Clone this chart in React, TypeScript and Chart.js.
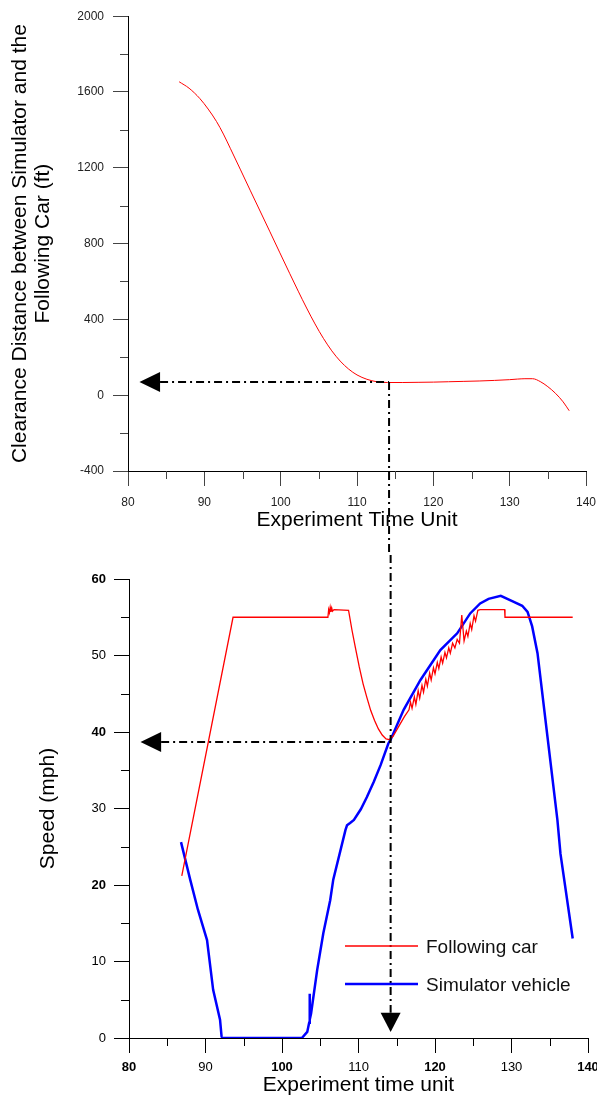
import React, { useEffect, useRef } from 'react';
import { Chart, registerables } from 'chart.js';

Chart.register(...registerables);

const FONT = "'Liberation Sans', Arial, Helvetica, sans-serif";

// ---------- Top chart: clearance distance ----------
const clearanceTime = [86.7, 88, 89.4, 90.5, 91.6, 92.5, 93.4, 94.7, 96.0, 97.3, 98.6, 99.9, 101.2, 102.3, 103.4, 104.5, 105.6, 106.7, 107.8, 108.9, 110, 111.3, 112.6, 114, 116, 118, 120, 122, 124, 126, 128, 130, 131, 132, 133, 134, 135, 136, 137, 137.8];
const clearanceFt = [1654, 1620, 1566, 1510, 1444, 1378, 1303, 1193, 1082, 972, 862, 751, 641, 549, 460, 376, 300, 234, 180, 138, 107, 84, 71, 67, 67, 68, 69, 71, 73, 75, 78, 82, 85, 87, 87, 72, 45, 10, -35, -82];

// ---------- Bottom chart: speeds ----------
const followTime = [86.9, 93.6, 106.0, 106.1, 106.2, 106.3, 106.4, 106.5, 106.6, 106.8, 108.7, 109.15, 109.6, 110.1, 110.6, 111.1, 111.6, 112.1, 112.6, 113.1, 113.6, 114.0, 114.5, 115.3, 116.0,
  116.6, 116.8, 117.0, 117.3, 117.5, 117.8, 118.0, 118.3, 118.5, 118.8, 119.0, 119.3, 119.5, 119.8, 120.0, 120.3, 120.5, 120.8, 121.0, 121.3, 121.5, 121.8, 122.0, 122.3, 122.6, 122.9, 123.2, 123.5, 123.8, 124.1, 124.3, 124.6, 124.8, 125.1, 125.3, 125.6, 125.9, 129.1, 129.15, 138.0];
const followSpeed = [21.2, 55.0, 55.0, 56.0, 55.6, 56.3, 55.7, 56.2, 55.8, 56.0, 55.9, 53.3, 51.0, 48.5, 46.3, 44.5, 42.8, 41.5, 40.4, 39.6, 39.1, 39.0, 39.4, 40.8, 42.0,
  42.9, 43.9, 43.1, 44.6, 43.6, 45.4, 44.4, 46.1, 45.2, 46.9, 46.0, 47.7, 46.8, 48.4, 47.6, 49.1, 48.3, 49.8, 49.0, 50.4, 49.7, 51.0, 50.3, 51.6, 51.0, 52.1, 51.6, 55.3, 51.9, 53.2, 52.5, 54.2, 53.4, 55.2, 54.5, 55.9, 56.0, 56.0, 55.0, 55.0];

const simTime = [86.8, 88.0, 89.0, 90.2, 91.0, 91.9, 92.1, 92.2, 102.6, 103.3, 103.55, 103.6, 103.65, 103.8, 104.6, 105.4, 106.3, 106.7, 108.3, 108.5, 108.9, 109.4, 110.3, 111.1, 112.0, 112.9, 113.9, 114.2, 115.9, 118.1, 120.7, 122.9, 124.6, 125.9, 127.0, 128.6, 130.3, 131.4, 132.1, 132.7, 133.4, 134.7, 136.0, 136.4, 138.0];
const simSpeed = [25.6, 20.7, 16.8, 12.8, 6.3, 2.4, 0.2, 0, 0, 0.8, 2.0, 5.8, 2.4, 3.2, 8.9, 13.7, 18.0, 20.7, 27.2, 27.8, 28.1, 28.5, 29.9, 31.5, 33.5, 35.7, 38.5, 39.0, 42.9, 46.8, 50.7, 52.9, 55.5, 56.8, 57.4, 57.8, 57.0, 56.5, 55.7, 53.8, 50.3, 39.4, 28.5, 24.1, 13.0];

// ---------- Tick labels ----------
const timeTickLabels = [80, 90, 100, 110, 120, 130, 140];
const clearanceTickLabels = [-400, 0, 400, 800, 1200, 1600, 2000];
const speedTickLabels = [0, 10, 20, 30, 40, 50, 60];

// ---------- Annotation (reading guide) values ----------
const markerTime = 114.2;
const markerClearance = 70;
const markerSpeed = 38.7;
const arrowTipTime = 81.5;
const arrowBaseTime = 84.2;
const downArrowTipSpeed = 0.8;
const downArrowBaseSpeed = 3.3;

const seriesNames = ['Following car', 'Simulator vehicle'];

const DASH = [8, 4, 2, 4];

function minorTicksPlugin(xLabels: number[], yLabels: number[], len: number, color: string) {
  return {
    id: 'minorTicks',
    afterDraw(chart: any) {
      const { ctx } = chart;
      const xs = chart.scales.x;
      const ys = chart.scales.y;
      ctx.save();
      ctx.strokeStyle = color;
      ctx.lineWidth = 1;
      for (const t of xs.ticks) {
        if (xLabels.includes(t.value)) continue;
        const px = Math.round(xs.getPixelForValue(t.value)) + 0.5;
        ctx.beginPath();
        ctx.moveTo(px, xs.top);
        ctx.lineTo(px, xs.top + len);
        ctx.stroke();
      }
      for (const t of ys.ticks) {
        if (yLabels.includes(t.value)) continue;
        const py = Math.round(ys.getPixelForValue(t.value)) + 0.5;
        ctx.beginPath();
        ctx.moveTo(ys.right - len, py);
        ctx.lineTo(ys.right, py);
        ctx.stroke();
      }
      ctx.restore();
    },
  };
}

const topGuidePlugin = {
  id: 'topGuide',
  afterDraw(chart: any) {
    const { ctx } = chart;
    const xs = chart.scales.x;
    const ys = chart.scales.y;
    const y0 = ys.getPixelForValue(markerClearance);
    const xm = xs.getPixelForValue(markerTime);
    const xb = xs.getPixelForValue(arrowBaseTime);
    const xt = xs.getPixelForValue(arrowTipTime);
    ctx.save();
    ctx.strokeStyle = '#000';
    ctx.lineWidth = 2;
    ctx.setLineDash(DASH);
    ctx.beginPath();
    ctx.moveTo(xb, y0);
    ctx.lineTo(xm, y0);
    ctx.stroke();
    ctx.beginPath();
    ctx.moveTo(xm, y0);
    ctx.lineTo(xm, chart.height);
    ctx.stroke();
    ctx.setLineDash([]);
    ctx.fillStyle = '#000';
    ctx.beginPath();
    ctx.moveTo(xt, y0);
    ctx.lineTo(xb, y0 - 10);
    ctx.lineTo(xb, y0 + 10);
    ctx.closePath();
    ctx.fill();
    ctx.restore();
  },
};

const bottomGuidePlugin = {
  id: 'bottomGuide',
  afterDraw(chart: any) {
    const { ctx, chartArea } = chart;
    const xs = chart.scales.x;
    const ys = chart.scales.y;
    const y0 = ys.getPixelForValue(markerSpeed);
    const xm = xs.getPixelForValue(markerTime);
    const xb = xs.getPixelForValue(arrowBaseTime);
    const xt = xs.getPixelForValue(arrowTipTime);
    const yb = ys.getPixelForValue(downArrowBaseSpeed);
    const yt = ys.getPixelForValue(downArrowTipSpeed);
    ctx.save();
    ctx.strokeStyle = '#000';
    ctx.lineWidth = 2;
    ctx.setLineDash(DASH);
    ctx.beginPath();
    ctx.moveTo(xb, y0);
    ctx.lineTo(xm, y0);
    ctx.stroke();
    ctx.beginPath();
    ctx.moveTo(xm, 0);
    ctx.lineTo(xm, yb);
    ctx.stroke();
    ctx.setLineDash([]);
    ctx.fillStyle = '#000';
    ctx.beginPath();
    ctx.moveTo(xt, y0);
    ctx.lineTo(xb, y0 - 10);
    ctx.lineTo(xb, y0 + 10);
    ctx.closePath();
    ctx.fill();
    ctx.beginPath();
    ctx.moveTo(xm, yt);
    ctx.lineTo(xm - 10, yb);
    ctx.lineTo(xm + 10, yb);
    ctx.closePath();
    ctx.fill();

    // legend
    const lx = chartArea.left + 216;
    const rows = [chartArea.top + 367, chartArea.top + 405];
    chart.data.datasets.forEach((d: any, i: number) => {
      ctx.strokeStyle = d.borderColor;
      ctx.lineWidth = d.borderWidth;
      ctx.beginPath();
      ctx.moveTo(lx, rows[i]);
      ctx.lineTo(lx + 73, rows[i]);
      ctx.stroke();
      ctx.fillStyle = '#111';
      ctx.font = `19px ${FONT}`;
      ctx.textBaseline = 'alphabetic';
      ctx.textAlign = 'left';
      ctx.fillText(d.label, lx + 81, rows[i] + 7);
    });
    ctx.restore();
  },
};

function makeTopConfig(): any {
  return {
    type: 'line',
    data: {
      datasets: [
        {
          label: 'Clearance',
          data: clearanceTime.map((t, i) => ({ x: t, y: clearanceFt[i] })),
          borderColor: '#ff0000',
          borderWidth: 1,
          pointRadius: 0,
          fill: false,
          cubicInterpolationMode: 'monotone',
        },
      ],
    },
    options: {
      animation: false,
      responsive: false,
      devicePixelRatio: 1,
      layout: { padding: { left: 0, top: 14, right: 11, bottom: 0 } },
      plugins: { legend: { display: false }, tooltip: { enabled: false } },
      scales: {
        x: {
          type: 'linear',
          min: 80,
          max: 140,
          border: { display: true, color: '#000', width: 1 },
          grid: {
            display: true,
            drawOnChartArea: false,
            drawTicks: true,
            tickLength: 15,
            lineWidth: 1,
            color: (c: any) => (c.tick && timeTickLabels.includes(c.tick.value) ? '#444' : 'rgba(0,0,0,0)'),
          },
          ticks: {
            stepSize: 5,
            autoSkip: false,
            maxRotation: 0,
            padding: 9,
            color: '#222',
            font: { family: FONT, size: 12 },
            callback: (v: any) => (timeTickLabels.includes(v) ? String(v) : ''),
          },
          title: {
            display: true,
            text: 'Experiment Time Unit',
            color: '#000',
            font: { family: FONT, size: 21, lineHeight: 1.2 },
            padding: { top: 0, bottom: 22 },
          },
          afterFit: (s: any) => {
            s.height = 84;
            s.paddingRight = 0;
          },
        },
        y: {
          type: 'linear',
          min: -400,
          max: 2000,
          border: { display: true, color: '#000', width: 1 },
          grid: {
            display: true,
            drawOnChartArea: false,
            drawTicks: true,
            tickLength: 15,
            lineWidth: 1,
            color: (c: any) => (c.tick && clearanceTickLabels.includes(c.tick.value) ? '#444' : 'rgba(0,0,0,0)'),
          },
          ticks: {
            stepSize: 200,
            autoSkip: false,
            padding: 9,
            color: '#222',
            font: { family: FONT, size: 12 },
            callback: (v: any) => (clearanceTickLabels.includes(v) ? String(v) : ''),
          },
          title: {
            display: true,
            text: ['Clearance Distance between Simulator and the', 'Following Car (ft)'],
            color: '#000',
            font: { family: FONT, size: 21, lineHeight: 1.1 },
            padding: { top: 8.5, bottom: 0 },
          },
          afterFit: (s: any) => {
            s.width = 128;
          },
        },
      },
    },
    plugins: [minorTicksPlugin(timeTickLabels, clearanceTickLabels, 8, '#444'), topGuidePlugin],
  };
}

function makeBottomConfig(): any {
  const tickFont = (c: any) => ({
    family: FONT,
    size: 13,
    weight: c.tick && c.tick.value !== 0 && c.tick.value % 20 === 0 ? 'bold' : 'normal',
  });
  return {
    type: 'line',
    data: {
      datasets: [
        {
          label: seriesNames[0],
          data: followTime.map((t, i) => ({ x: t, y: followSpeed[i] })),
          borderColor: '#ff0000',
          borderWidth: 1.3,
          pointRadius: 0,
          fill: false,
          tension: 0,
        },
        {
          label: seriesNames[1],
          data: simTime.map((t, i) => ({ x: t, y: simSpeed[i] })),
          borderColor: '#0000ff',
          borderWidth: 2.5,
          pointRadius: 0,
          fill: false,
          tension: 0,
        },
      ],
    },
    options: {
      animation: false,
      responsive: false,
      devicePixelRatio: 1,
      layout: { padding: { left: 0, top: 24, right: 9, bottom: 0 } },
      plugins: { legend: { display: false }, tooltip: { enabled: false } },
      scales: {
        x: {
          type: 'linear',
          min: 80,
          max: 140,
          border: { display: true, color: '#000', width: 1 },
          grid: {
            display: true,
            drawOnChartArea: false,
            drawTicks: true,
            tickLength: 15,
            lineWidth: 1,
            color: (c: any) => (c.tick && timeTickLabels.includes(c.tick.value) ? '#000' : 'rgba(0,0,0,0)'),
          },
          ticks: {
            stepSize: 5,
            autoSkip: false,
            maxRotation: 0,
            padding: 7,
            color: '#000',
            font: tickFont,
            callback: (v: any) => (timeTickLabels.includes(v) ? String(v) : ''),
          },
          title: {
            display: true,
            text: 'Experiment time unit',
            color: '#000',
            font: { family: FONT, size: 21, lineHeight: 1.2 },
            padding: { top: 0, bottom: 1.5 },
          },
          afterFit: (s: any) => {
            s.height = 61;
            s.paddingRight = 0;
          },
        },
        y: {
          type: 'linear',
          min: 0,
          max: 60,
          border: { display: true, color: '#000', width: 1 },
          grid: {
            display: true,
            drawOnChartArea: false,
            drawTicks: true,
            tickLength: 15,
            lineWidth: 1,
            color: (c: any) => (c.tick && speedTickLabels.includes(c.tick.value) ? '#000' : 'rgba(0,0,0,0)'),
          },
          ticks: {
            stepSize: 5,
            autoSkip: false,
            padding: 8,
            color: '#000',
            font: tickFont,
            callback: (v: any) => (speedTickLabels.includes(v) ? String(v) : ''),
          },
          title: {
            display: true,
            text: 'Speed (mph)',
            color: '#000',
            font: { family: FONT, size: 21, lineHeight: 1.2 },
            padding: { top: 36, bottom: 0 },
          },
          afterFit: (s: any) => {
            s.width = 129;
          },
        },
      },
    },
    plugins: [minorTicksPlugin(timeTickLabels, speedTickLabels, 8, '#000'), bottomGuidePlugin],
  };
}

function ChartCanvas({ make, width, height, top }: { make: () => any; width: number; height: number; top: number }) {
  const ref = useRef<HTMLCanvasElement | null>(null);
  useEffect(() => {
    if (!ref.current) return;
    const chart = new Chart(ref.current, make());
    return () => chart.destroy();
  }, [make]);
  return (
    <canvas
      ref={ref}
      width={width}
      height={height}
      style={{ position: 'absolute', left: 0, top, width, height, display: 'block' }}
    />
  );
}

export default function App() {
  return (
    <div
      style={{
        position: 'absolute',
        left: 0,
        top: 0,
        width: 597,
        height: 1099,
        overflow: 'hidden',
        background: '#fff',
      }}
    >
      <ChartCanvas make={makeTopConfig} width={597} height={555} top={0} />
      <ChartCanvas make={makeBottomConfig} width={597} height={544} top={555} />
    </div>
  );
}
